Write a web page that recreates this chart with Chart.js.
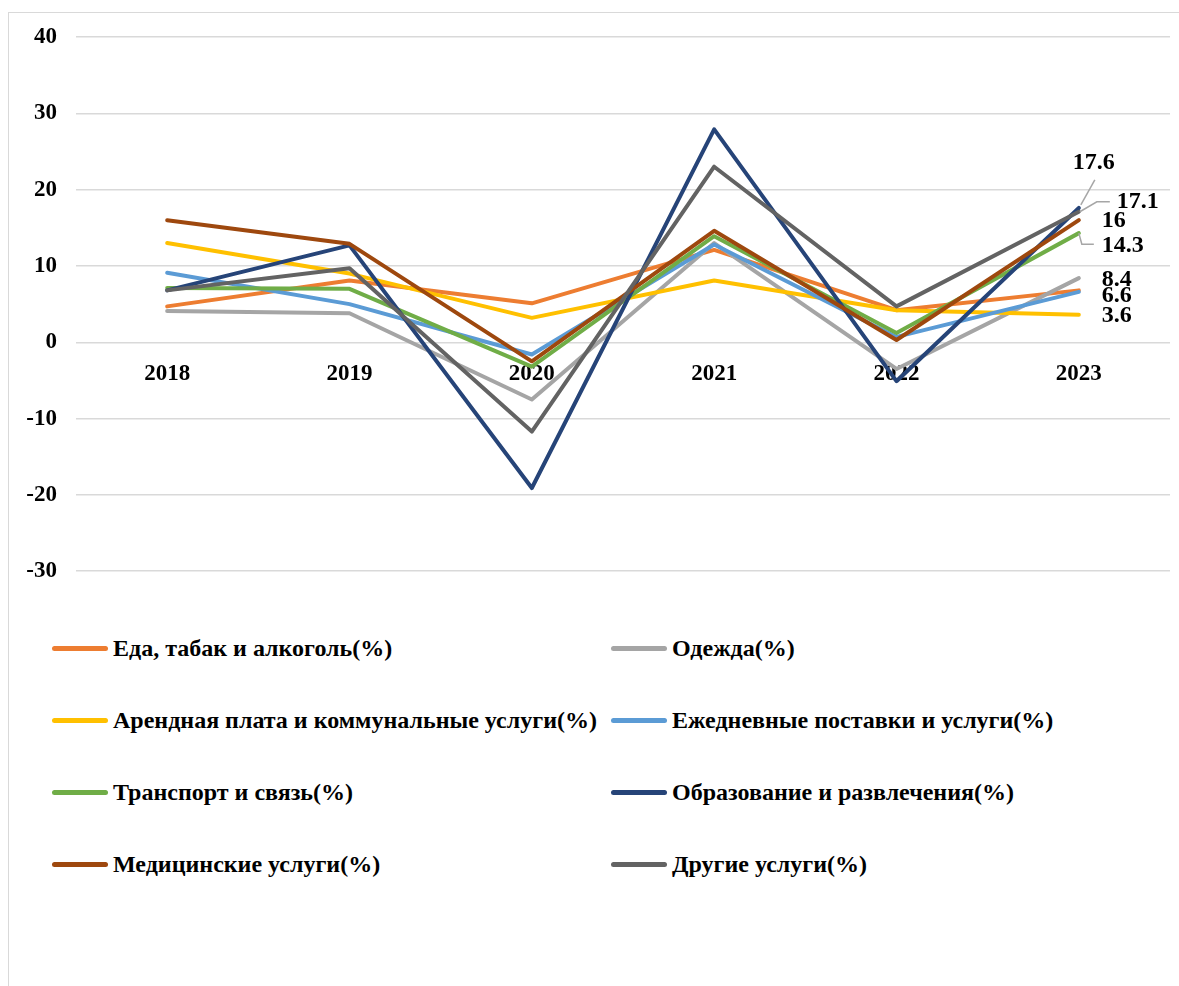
<!DOCTYPE html>
<html>
<head>
<meta charset="utf-8">
<script src="https://cdn.jsdelivr.net/npm/chart.js@4.4.1/dist/chart.umd.min.js"></script>
<style>
  html, body { margin: 0; padding: 0; background: #fff; overflow: hidden; }
  body { width: 1179px; height: 986px; position: relative; font-family: "Liberation Serif", "Times New Roman", serif; }
  #frame { position: absolute; left: 8px; top: 12px; width: 1300px; height: 1100px; border: 1px solid #d9d9d9; }
  #wrap { position: absolute; left: 0; top: 0; width: 1179px; height: 604px; }
  #legend { position: absolute; left: 52px; top: 612px; display: grid; grid-template-columns: 559px 540px; grid-auto-rows: 72px; }
  .item { display: flex; align-items: center; font-weight: bold; font-size: 24px; color: #000; white-space: nowrap; }
  .sw { width: 56px; height: 5px; border-radius: 3px; margin-right: 5px; }
</style>
</head>
<body>
<div id="frame"></div>
<div id="wrap"><canvas id="chart"></canvas></div>
<div id="legend"></div>
<script>
const years = ['2018', '2019', '2020', '2021', '2022', '2023'];
const seriesNames = [
  'Еда, табак и алкоголь(%)',
  'Одежда(%)',
  'Арендная плата и коммунальные услуги(%)',
  'Ежедневные поставки и услуги(%)',
  'Транспорт и связь(%)',
  'Образование и развлечения(%)',
  'Медицинские услуги(%)',
  'Другие услуги(%)'
];
const food      = [4.7, 8.1, 5.1, 12.1, 4.2, 6.8];
const clothing  = [4.1, 3.8, -7.5, 13.0, -3.5, 8.4];
const rent      = [13.0, 9.0, 3.2, 8.1, 4.2, 3.6];
const household = [9.1, 5.0, -1.6, 12.8, 0.7, 6.6];
const transport = [7.1, 7.0, -3.2, 13.9, 1.2, 14.3];
const education = [6.8, 12.7, -19.1, 27.9, -5.1, 17.6];
const medical   = [16.0, 12.9, -2.5, 14.6, 0.3, 16.0];
const other     = [6.8, 9.7, -11.7, 23.0, 4.7, 17.1];
const yTicks = [-30, -20, -10, 0, 10, 20, 30, 40];

const seriesData = [food, clothing, rent, household, transport, education, medical, other];
const colors = ['#ED7D31', '#A5A5A5', '#FFC000', '#5B9BD5', '#70AD47', '#264478', '#9E480E', '#636363'];

// end labels for the last year: offset from the point, optional leader line (null = no label)
const endLabels = [
  null,
  { dx: 23, dy: 2 },
  { dx: 23, dy: 1.5 },
  { dx: 23, dy: 4 },
  { dx: 23, dy: 12.5, leader: [[0, 0], [3, 11], [15, 11]] },
  { dx: -6, dy: -45, leader: [[2, -3], [16, -28]] },
  { dx: 23, dy: 1 },
  { dx: 38, dy: -10, leader: [[1, 0], [18, -10], [31, -10]] }
];

const endLabelPlugin = {
  id: 'endLabels',
  afterDatasetsDraw(chart) {
    const ctx = chart.ctx;
    ctx.save();
    chart.data.datasets.forEach((ds, i) => {
      const cfg = endLabels[i];
      if (!cfg) return;
      const meta = chart.getDatasetMeta(i);
      const pt = meta.data[meta.data.length - 1];
      if (cfg.leader) {
        ctx.strokeStyle = '#a6a6a6';
        ctx.lineWidth = 1.5;
        ctx.beginPath();
        cfg.leader.forEach((p, k) => {
          if (k === 0) ctx.moveTo(pt.x + p[0], pt.y + p[1]);
          else ctx.lineTo(pt.x + p[0], pt.y + p[1]);
        });
        ctx.stroke();
      }
      ctx.fillStyle = '#000';
      ctx.font = 'bold 24px "Liberation Serif", "Times New Roman", serif';
      ctx.textAlign = 'left';
      ctx.textBaseline = 'middle';
      ctx.fillText(String(ds.data[ds.data.length - 1]), pt.x + cfg.dx, pt.y + cfg.dy);
    });
    ctx.restore();
  }
};

const datasets = seriesNames.map((name, i) => ({
  label: name,
  data: seriesData[i],
  borderColor: colors[i],
  backgroundColor: colors[i],
  borderWidth: 4,
  tension: 0,
  fill: false,
  pointRadius: 0,
  borderJoinStyle: 'round',
  borderCapStyle: 'round',
  order: seriesNames.length - i
}));

const tickFont = { family: '"Liberation Serif", "Times New Roman", serif', size: 23, weight: 'bold' };

new Chart(document.getElementById('chart'), {
  type: 'line',
  data: { labels: years, datasets: datasets },
  options: {
    responsive: true,
    maintainAspectRatio: false,
    animation: false,
    layout: { padding: { left: 0, right: 9, top: 37, bottom: 24 } },
    scales: {
      x: {
        offset: true,
        position: { y: 0 },
        grid: { display: false, drawTicks: false },
        border: { display: false },
        ticks: { color: '#000', font: tickFont, padding: 18, maxRotation: 0 },
        afterFit(scale) { scale.height = 0; }
      },
      y: {
        min: -30,
        max: 40,
        afterBuildTicks(scale) { scale.ticks = yTicks.map(v => ({ value: v })); },
        grid: { color: '#d9d9d9', lineWidth: 1.5, drawTicks: false },
        border: { display: false },
        ticks: { color: '#000', font: tickFont, padding: 19 },
        afterFit(scale) { scale.width = 76; }
      }
    },
    plugins: {
      legend: { display: false },
      tooltip: { enabled: false }
    }
  },
  plugins: [endLabelPlugin]
});

const legendEl = document.getElementById('legend');
seriesNames.forEach((name, i) => {
  const item = document.createElement('div');
  item.className = 'item';
  const sw = document.createElement('span');
  sw.className = 'sw';
  sw.style.background = colors[i];
  item.appendChild(sw);
  item.appendChild(document.createTextNode(name));
  legendEl.appendChild(item);
});
</script>
</body>
</html>
